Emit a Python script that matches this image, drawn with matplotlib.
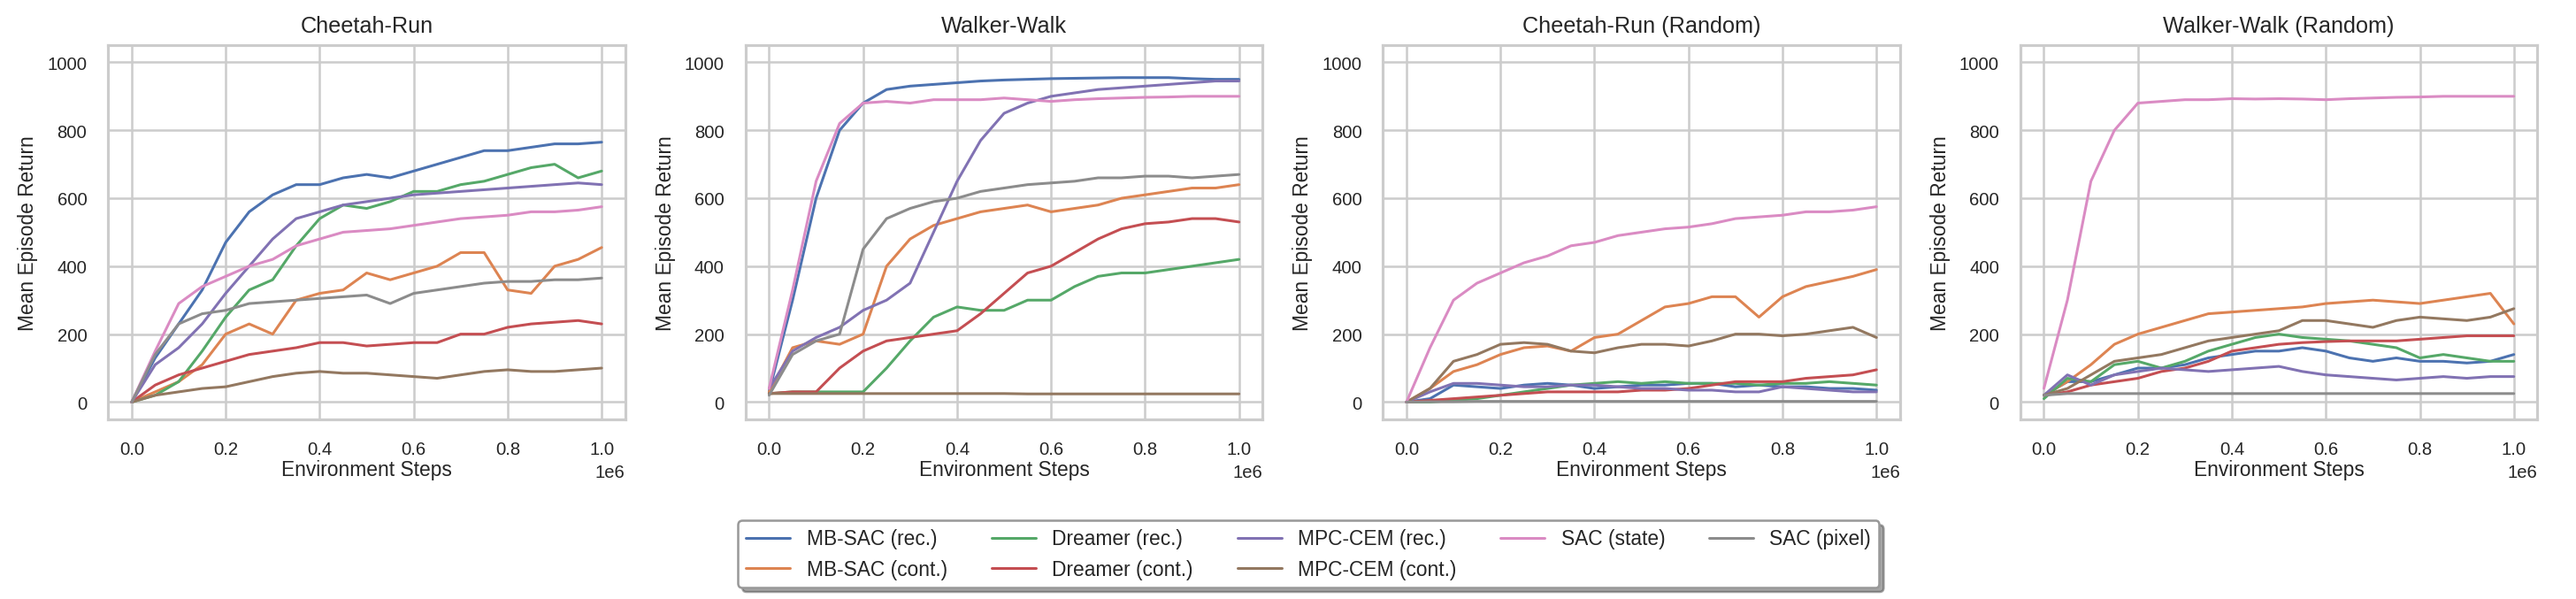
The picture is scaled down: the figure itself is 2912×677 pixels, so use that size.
import matplotlib
matplotlib.use("Agg")
import matplotlib.pyplot as plt
import seaborn as sns
import numpy as np

sns.set_theme(style="whitegrid")
plt.rcParams['font.family'] = ['Liberation Sans', 'DejaVu Sans']

steps = np.linspace(0, 1.0e6, 21)
methods = ['MB-SAC (rec.)', 'MB-SAC (cont.)', 'Dreamer (rec.)', 'Dreamer (cont.)',
           'MPC-CEM (rec.)', 'MPC-CEM (cont.)', 'SAC (state)', 'SAC (pixel)']
titles = ['Cheetah-Run', 'Walker-Walk', 'Cheetah-Run (Random)', 'Walker-Walk (Random)']

cheetah_run = [
    [0,130,230,330,470,560,610,640,640,660,670,660,680,700,720,740,740,750,760,760,765],
    [0,30,60,110,200,230,200,300,320,330,380,360,380,400,440,440,330,320,400,420,455],
    [0,20,60,150,250,330,360,460,540,580,570,590,620,620,640,650,670,690,700,660,680],
    [0,50,80,100,120,140,150,160,175,175,165,170,175,175,200,200,220,230,235,240,230],
    [0,110,160,230,320,400,480,540,560,580,590,600,610,615,620,625,630,635,640,645,640],
    [0,20,30,40,45,60,75,85,90,85,85,80,75,70,80,90,95,90,90,95,100],
    [0,150,290,340,370,400,420,460,480,500,505,510,520,530,540,545,550,560,560,565,575],
    [0,140,230,260,270,290,295,300,305,310,315,290,320,330,340,350,355,355,360,360,365],
]
walker_walk = [
    [30,300,600,800,880,920,930,935,940,945,948,950,952,953,954,955,955,955,952,950,950],
    [30,160,180,170,200,400,480,520,540,560,570,580,560,570,580,600,610,620,630,630,640],
    [25,30,30,30,30,100,180,250,280,270,270,300,300,340,370,380,380,390,400,410,420],
    [25,30,30,100,150,180,190,200,210,260,320,380,400,440,480,510,525,530,540,540,530],
    [40,150,190,220,270,300,350,500,650,770,850,880,900,910,920,925,930,935,940,945,945],
    [25,25,25,25,25,25,25,25,25,25,25,24,24,24,24,24,24,24,24,24,24],
    [40,330,650,820,880,885,880,890,890,890,895,890,885,890,893,895,897,898,900,900,900],
    [20,140,180,200,450,540,570,590,600,620,630,640,645,650,660,660,665,665,660,665,670],
]
cheetah_random = [
    [0,10,50,45,40,50,55,50,40,45,50,50,55,55,45,50,45,45,40,40,35],
    [0,40,90,110,140,160,165,150,190,200,240,280,290,310,310,250,310,340,355,370,390],
    [0,0,5,10,20,30,40,50,55,60,55,60,55,55,55,50,55,55,60,55,50],
    [0,5,10,15,20,25,30,30,30,30,35,35,40,50,60,60,60,70,75,80,95],
    [0,30,55,55,50,45,45,50,50,45,40,40,35,35,30,30,45,40,35,30,30],
    [0,40,120,140,170,175,170,150,145,160,170,170,165,180,200,200,195,200,210,220,190],
    [0,160,300,350,380,410,430,460,470,490,500,510,515,525,540,545,550,560,560,565,575],
    [0,1,1,2,2,2,2,2,2,2,2,2,2,2,2,2,2,2,2,2,2],
]
walker_random = [
    [20,60,60,80,100,100,110,130,140,150,150,160,150,130,120,130,120,120,115,120,140],
    [20,60,110,170,200,220,240,260,265,270,275,280,290,295,300,295,290,300,310,320,230],
    [10,70,60,110,120,100,120,150,170,190,200,190,185,180,170,160,130,140,130,120,120],
    [20,30,50,60,70,90,100,120,150,160,170,175,178,180,180,180,185,190,195,195,195],
    [20,80,50,80,90,100,95,90,95,100,105,90,80,75,70,65,70,75,70,75,75],
    [20,40,80,120,130,140,160,180,190,200,210,240,240,230,220,240,250,245,240,250,275],
    [40,300,650,800,880,885,890,890,893,892,893,892,890,893,895,897,898,900,900,900,900],
    [20,25,25,25,25,25,25,25,25,25,25,25,25,25,25,25,25,25,25,25,25],
]
panels = [cheetah_run, walker_walk, cheetah_random, walker_random]
colors = sns.color_palette('deep', 8)

fig, axes = plt.subplots(1, 4, figsize=(16, 3.725), dpi=182)
fig.subplots_adjust(left=0.042, right=0.985, top=0.923, bottom=0.30, wspace=0.233)

for ax, title, data in zip(axes, titles, panels):
    for name, vals, c in zip(methods, data, colors):
        ax.plot(steps, vals, color=c, lw=1.2, label=name)
    ax.set_title(title, fontsize=10)
    ax.set_ylim(-50, 1050)
    ax.set_yticks(range(0, 1001, 200))
    ax.set_xticks(np.linspace(0, 1e6, 6))
    ax.set_xlabel('Environment Steps', fontsize=9, labelpad=1)
    ax.set_ylabel('Mean Episode Return', fontsize=9)
    ax.tick_params(labelsize=8)
    ax.xaxis.get_offset_text().set_fontsize(8)

handles, labels = axes[0].get_legend_handles_labels()
fig.legend(handles, labels, loc='center', bbox_to_anchor=(0.508, 0.075), ncol=5,
           fontsize=9, frameon=True, shadow=True, edgecolor='0.6',
           columnspacing=2.2, handlelength=2.2)

fig.savefig('out.png')
